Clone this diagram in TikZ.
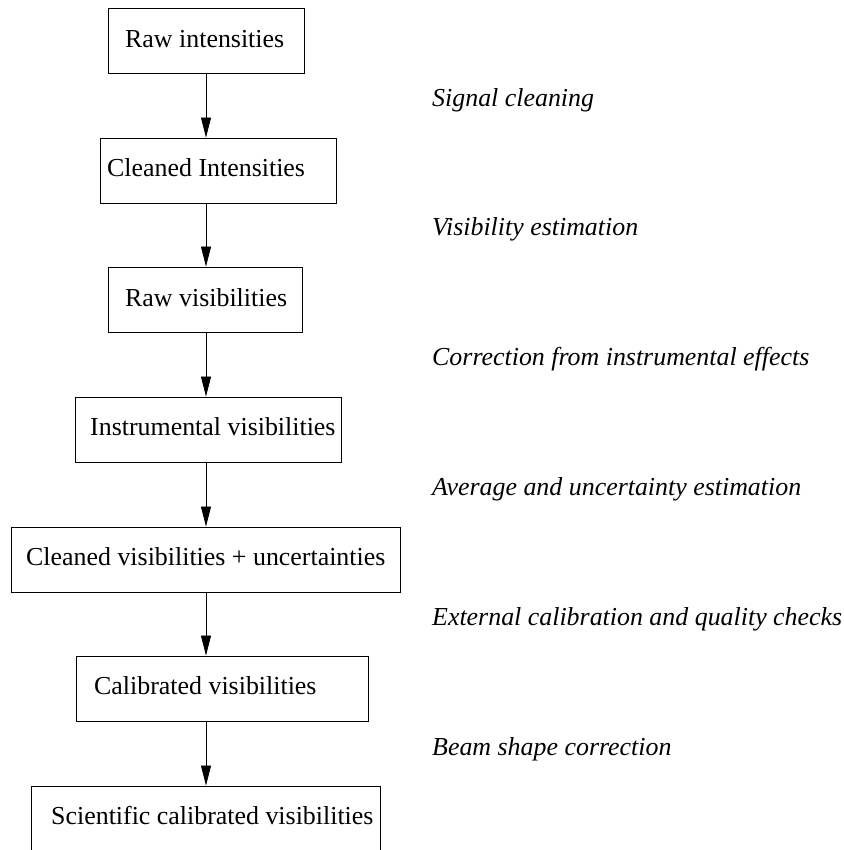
\documentclass[tikz,border=0pt]{standalone}
\usepackage{fontspec}
\setmainfont{Liberation Serif}
\usetikzlibrary{arrows.meta}
\begin{document}
\begin{tikzpicture}[x=1pt,y=-1pt,
  boxnode/.style={draw=black, line width=0.9pt, rectangle, minimum height=65pt, inner sep=0pt},
  boxtext/.style={anchor=base west, inner sep=0pt, font=\fontsize{25.9}{31}\selectfont},
  steplabel/.style={anchor=base west, inner sep=0pt, font=\fontsize{25.9}{31}\selectfont\itshape},
  flow/.style={line width=0.8pt, -{Triangle[length=20pt,width=10pt]}}]
\useasboundingbox (0,0) rectangle (843,850);
\clip (0,0) rectangle (843,850);
\coordinate (ax) at (206,0);
% boxes
\node[boxnode, minimum width=196pt] (b1) at (206,40.5) {};
\node[boxnode, minimum width=236pt] (b2) at (218,170.5) {};
\node[boxnode, minimum width=194pt] (b3) at (205,299.5) {};
\node[boxnode, minimum width=266pt] (b4) at (208.5,429.5) {};
\node[boxnode, minimum width=389pt] (b5) at (205.5,559.5) {};
\node[boxnode, minimum width=292pt] (b6) at (222,688.5) {};
\node[boxnode, minimum width=349pt] (b7) at (205.5,818.5) {};
% box texts
\node[boxtext] (t1) at (125,48) {Raw intensities};
\node[boxtext] (t2) at (107,177) {Cleaned Intensities};
\node[boxtext] (t3) at (125,306) {Raw visibilities};
\node[boxtext] (t4) at (90,435) {Instrumental visibilities};
\node[boxtext] (t5) at (26,565) {Cleaned visibilities + uncertainties};
\node[boxtext] (t6) at (94,694) {Calibrated visibilities};
\node[boxtext] (t7) at (51,824) {Scientific calibrated visibilities};
% step labels
\node[steplabel] (l1) at (432,107) {Signal cleaning};
\node[steplabel] (l2) at (432,235) {Visibility estimation};
\node[steplabel] (l3) at (432,365) {Correction from instrumental effects};
\node[steplabel] (l4) at (432,495) {Average and uncertainty estimation};
\node[steplabel] (l5) at (432,625) {External calibration and quality checks};
\node[steplabel] (l6) at (432,755) {Beam shape correction};
% arrows
\draw[flow] (b1.south -| ax) -- (b2.north -| ax);
\draw[flow] (b2.south -| ax) -- (b3.north -| ax);
\draw[flow] (b3.south -| ax) -- (b4.north -| ax);
\draw[flow] (b4.south -| ax) -- (b5.north -| ax);
\draw[flow] (b5.south -| ax) -- (b6.north -| ax);
\draw[flow] (b6.south -| ax) -- (b7.north -| ax);
\end{tikzpicture}
\end{document}
